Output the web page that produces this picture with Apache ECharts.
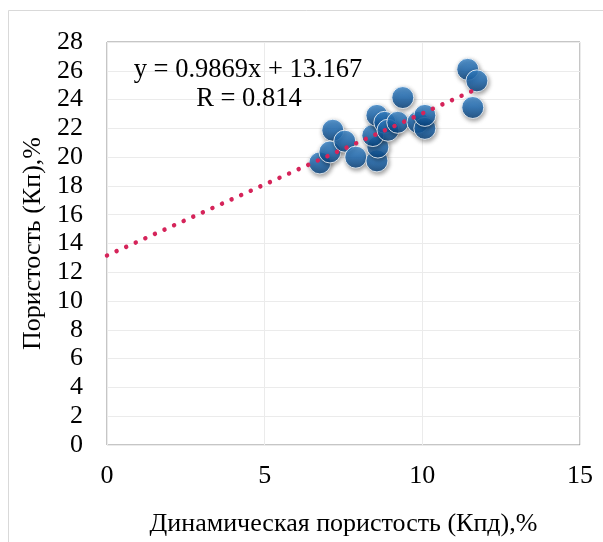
<!DOCTYPE html>
<html>
<head>
<meta charset="utf-8">
<script src="https://cdn.jsdelivr.net/npm/echarts@6/dist/echarts.min.js"></script>
<style>
html,body{margin:0;padding:0;background:#fff;}
#c{width:603px;height:542px;}
</style>
</head>
<body>
<div id="c"></div>
<script>
// Data
const xValues = [6.75, 7.16, 7.07, 7.54, 7.89, 8.56, 8.59, 8.43, 8.56, 8.81, 8.91, 9.22, 9.38, 9.86, 10.08, 10.08, 11.44, 11.73, 11.60];
const yValues = [19.6, 21.87, 20.36, 21.11, 20.0, 19.74, 20.7, 21.5, 22.9, 22.42, 21.87, 22.42, 24.14, 22.42, 22.0, 22.9, 26.1, 25.3, 23.45];
const trendSlope = 0.9869;
const trendIntercept = 13.167;
const trendRange = [0, 11.73];
const equationLines = ['y = 0.9869x + 13.167', 'R = 0.814'];
const xTitle = 'Динамическая пористость (Кпд),%';
const yTitle = 'Пористость (Кп),%';

const points = xValues.map((x, i) => [x, yValues[i]]);
const trendPoints = trendRange.map(x => [x, trendSlope * x + trendIntercept]);

const font = '"Liberation Serif", "Times New Roman", serif';
const fs = 26;
const chart = echarts.init(document.getElementById('c'), null, {renderer: 'canvas'});

chart.setOption({
  animation: false,
  backgroundColor: '#fff',
  grid: {left: 107, top: 42, right: 23, bottom: 94, show: true, borderColor: '#8c8c8c', borderWidth: 1},
  xAxis: {
    type: 'value', min: 0, max: 15, interval: 5,
    axisLine: {show: false}, axisTick: {show: false},
    axisLabel: {color: '#000', fontFamily: font, fontSize: fs, margin: 18},
    splitLine: {lineStyle: {color: '#ebebeb', width: 1}},
    name: xTitle, nameLocation: 'middle', nameGap: 66,
    nameTextStyle: {color: '#000', fontFamily: font, fontSize: fs}
  },
  yAxis: {
    type: 'value', min: 0, max: 28, interval: 2,
    axisLine: {show: false}, axisTick: {show: false},
    axisLabel: {color: '#000', fontFamily: font, fontSize: fs, margin: 24},
    splitLine: {lineStyle: {color: '#ebebeb', width: 1}},
    name: yTitle, nameLocation: 'middle', nameGap: 61, nameRotate: 90,
    nameTextStyle: {color: '#000', fontFamily: font, fontSize: fs}
  },
  graphic: [
    {type: 'rect', shape: {x: 8.5, y: 10.5, width: 700, height: 700}, style: {fill: 'none', stroke: '#d9d9d9', lineWidth: 1}, silent: true, z: -10},
    {type: 'text', z: 100, x: 248, y: 70, style: {text: equationLines[0], font: '26.5px ' + font, fill: '#000', textAlign: 'center', textVerticalAlign: 'middle'}},
    {type: 'text', z: 100, x: 249, y: 99, style: {text: equationLines[1], font: '26.5px ' + font, fill: '#000', textAlign: 'center', textVerticalAlign: 'middle'}}
  ],
  series: [
    {
      type: 'scatter',
      data: points,
      symbolSize: 22,
      z: 2,
      itemStyle: {
        color: new echarts.graphic.LinearGradient(0, 0, 0, 1, [
          {offset: 0, color: '#3f8fd6'},
          {offset: 0.5, color: '#1b69b3'},
          {offset: 1, color: '#06407a'}
        ]),
        borderColor: '#ffffff', borderWidth: 1,
        shadowBlur: 4, shadowColor: 'rgba(0,0,0,0.45)', shadowOffsetX: 1, shadowOffsetY: 2
      }
    },
    {
      type: 'line',
      data: trendPoints,
      symbol: 'none',
      z: 5,
      lineStyle: {color: '#d5245a', width: 4.5, type: [0.01, 10.5], cap: 'round'}
    }
  ]
});
</script>
</body>
</html>
